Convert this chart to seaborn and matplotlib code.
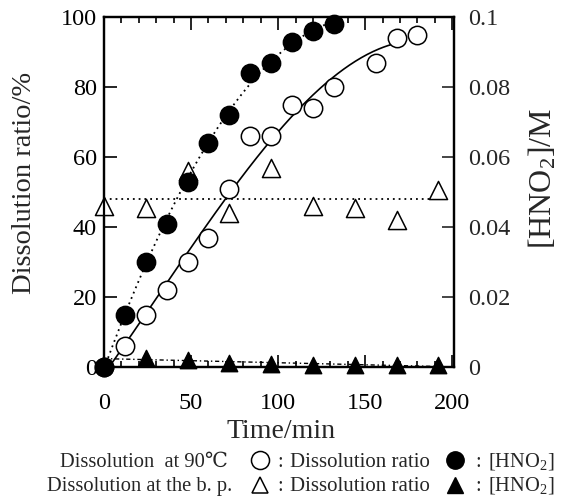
import numpy as np
import matplotlib
matplotlib.use("Agg")
import matplotlib.pyplot as plt
from matplotlib.lines import Line2D
from matplotlib.ticker import MultipleLocator
import seaborn as sns

# Dissolution at 90 degC
time_90 = [0, 12, 24, 36, 48, 60, 72, 84, 96, 108, 120, 132, 156, 168, 180]
ratio_90 = [0, 6, 15, 22, 30, 37, 51, 66, 66, 75, 74, 80, 87, 94, 95]
time_90_hno2 = [0, 12, 24, 36, 48, 60, 72, 84, 96, 108, 120, 132]
hno2_90 = [0, 0.015, 0.030, 0.041, 0.053, 0.064, 0.072, 0.084, 0.087, 0.093, 0.096, 0.098]

# Dissolution at the boiling point
time_bp = [0, 24, 48, 72, 96, 120, 144, 168, 192]
ratio_bp = [46, 45.5, 56, 44, 57, 46, 45.5, 42, 50.5]
time_bp_hno2 = [24, 48, 72, 96, 120, 144, 168, 192]
hno2_bp = [0.0025, 0.002, 0.0012, 0.001, 0.0007, 0.0006, 0.0005, 0.0005]

left_ticks = [0, 20, 40, 60, 80, 100]
right_ticks = [0, 0.02, 0.04, 0.06, 0.08, 0.1]
right_tick_labels = ["0", "0.02", "0.04", "0.06", "0.08", "0.1"]
x_ticks = [0, 50, 100, 150, 200]

sns.set_style("ticks")
plt.rcParams["font.family"] = ["Liberation Serif", "DejaVu Serif", "DejaVu Sans"]
plt.rcParams["mathtext.fontset"] = "custom"
plt.rcParams["mathtext.rm"] = "Liberation Serif"
plt.rcParams["mathtext.it"] = "Liberation Serif:italic"

W, H = 571, 504
fig = plt.figure(figsize=(W / 100, H / 100), dpi=100)
ax = fig.add_axes([104 / W, 1 - 367 / H, 350 / W, 350 / H])
ax2 = ax.twinx()

# fitted curves
xs = np.linspace(0, 168, 200)
ax.plot(xs, np.polyval(np.polyfit(time_90, ratio_90, 3), xs), color="black", lw=1.2, zorder=2)
xs2 = np.linspace(0, 134, 200)
ax2.plot(xs2, np.polyval(np.polyfit(time_90_hno2, hno2_90, 2), xs2),
         color="black", lw=1.3, linestyle=(0, (1, 2.2)), zorder=2)
ax.plot([0, 192], [np.mean(ratio_bp)] * 2, color="black", lw=1.3, linestyle=(0, (1, 2.2)), zorder=2)
xs3 = np.linspace(0, 192, 50)
ax2.plot(xs3, np.polyval(np.polyfit(time_bp_hno2, hno2_bp, 1), xs3),
         color="black", lw=1.0, linestyle=(0, (3, 2, 1, 2)), zorder=2)

# data points
sns.scatterplot(x=time_90, y=ratio_90, ax=ax, marker="o", s=175, color="white",
                edgecolor="black", linewidth=1.1, zorder=3, clip_on=False)
sns.scatterplot(x=time_bp, y=ratio_bp, ax=ax, marker="^", s=170, color="white",
                edgecolor="black", linewidth=1.1, zorder=3, clip_on=False)
sns.scatterplot(x=time_90_hno2, y=hno2_90, ax=ax2, marker="o", s=175, color="black",
                edgecolor="black", linewidth=1.0, zorder=4, clip_on=False)
sns.scatterplot(x=time_bp_hno2, y=hno2_bp, ax=ax2, marker="^", s=140, color="black",
                edgecolor="black", linewidth=1.0, zorder=4, clip_on=False)

ax.set_xlim(0, 201)
ax.set_ylim(0, 100)
ax2.set_ylim(0, 0.1)
ax.set_xticks(x_ticks)
ax.set_yticks(left_ticks)
ax2.set_yticks(right_ticks, right_tick_labels)
ax.xaxis.set_minor_locator(MultipleLocator(10))
ax.set_xlabel("")
ax.set_ylabel("")
ax2.set_ylabel("")

ax.tick_params(axis="both", which="both", direction="in", top=True, right=False,
               labelsize=17.5, width=1.2, colors="black")
ax.tick_params(axis="y", length=9, pad=5)
ax.tick_params(axis="x", which="major", length=9, pad=19)
ax.tick_params(axis="x", which="minor", length=4.5)
ax2.tick_params(axis="y", direction="in", length=9, pad=10, labelsize=17.5, width=1.2)

for a in (ax, ax2):
    for sp in a.spines.values():
        sp.set_linewidth(1.6)
        sp.set_color("black")

fig.text(25 / W, 1 - 183 / H, "Dissolution ratio/%", rotation=90, ha="center", va="center", fontsize=20.5)
fig.text(281 / W, 1 - 431 / H, "Time/min", ha="center", va="center", fontsize=20)
fig.text(543 / W, 1 - 178 / H, "[HNO$_2$]/M", rotation=90, ha="center", va="center", fontsize=23)

# legend rows
def fx(px):
    return px / W

def fy(py):
    return 1 - py / H

rows = [
    ("Dissolution  at 90\u2103", 60, 467, dict(marker="o", mfc="white", ms=13), 460,
     dict(marker="o", mfc="black", ms=12.5), 460),
    ("Dissolution at the b. p.", 47, 491, dict(marker="^", mfc="white", ms=12), 485,
     dict(marker="^", mfc="black", ms=12), 485),
]
for label, lx, base, m1, m1y, m2, m2y in rows:
    fig.text(fx(lx), fy(base), label, ha="left", va="baseline", fontsize=14.8)
    fig.add_artist(Line2D([fx(260)], [fy(m1y)], transform=fig.transFigure, color="black",
                          mec="black", mew=1.1, linestyle="none", **m1))
    fig.text(fx(280), fy(base), ":", ha="center", va="baseline", fontsize=14.8)
    fig.text(fx(290), fy(base), "Dissolution ratio", ha="left", va="baseline", fontsize=15)
    fig.add_artist(Line2D([fx(455)], [fy(m2y)], transform=fig.transFigure, color="black",
                          mec="black", mew=1.0, linestyle="none", **m2))
    fig.text(fx(478), fy(base), ":", ha="center", va="baseline", fontsize=14.8)
    fig.text(fx(488), fy(base), "[HNO$_2$]", ha="left", va="baseline", fontsize=14.8)

fig.savefig("out.png", dpi=100)
